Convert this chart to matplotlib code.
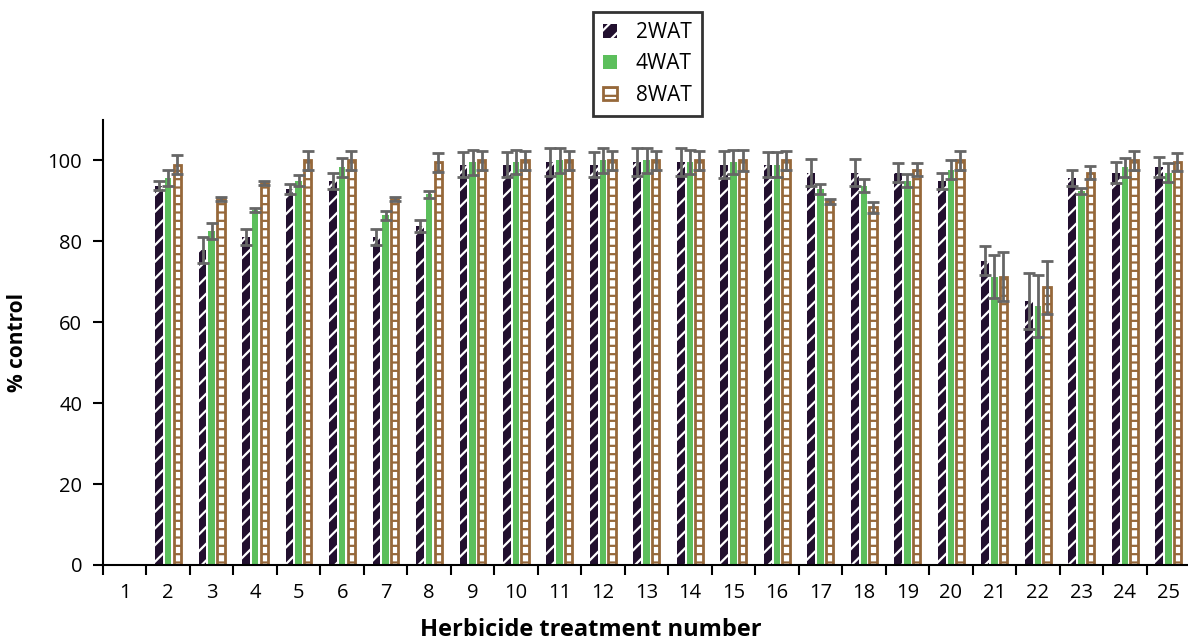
import matplotlib
matplotlib.use("Agg")
import matplotlib.pyplot as plt
import numpy as np

plt.rcParams['font.family'] = ['Open Sans', 'DejaVu Sans']
plt.rcParams['hatch.linewidth'] = 1.6

treatments = list(range(1, 26))

wat2 = [0, 93.7, 77.9, 81.0, 93.0, 95.0, 81.0, 83.8, 99.0, 99.0, 99.6, 99.0, 99.6,
        99.6, 99.0, 99.0, 97.0, 97.0, 97.0, 95.0, 75.2, 65.3, 95.7, 97.0, 98.3]
wat2_err = [0, 1.1, 3.3, 2.0, 1.2, 2.0, 2.0, 1.5, 3.0, 3.0, 3.4, 3.0, 3.4,
            3.4, 3.3, 3.0, 3.4, 3.3, 2.3, 2.0, 3.6, 6.9, 2.0, 2.6, 2.5]

wat4 = [0, 95.7, 82.6, 87.8, 95.0, 98.3, 86.4, 91.6, 99.5, 99.6, 100, 100, 100,
        99.6, 99.6, 99.0, 93.0, 93.7, 95.0, 97.7, 71.3, 64.0, 92.4, 98.3, 97.0]
wat4_err = [0, 2.0, 2.0, 0.5, 1.3, 2.4, 1.0, 0.8, 3.0, 3.0, 3.0, 3.0, 3.0,
            3.0, 3.0, 3.0, 1.3, 1.6, 1.6, 2.3, 5.3, 7.6, 0.7, 2.4, 2.3]

wat8 = [0, 99.0, 90.4, 94.5, 100, 100, 90.4, 99.5, 100, 100, 100, 100, 100,
        100, 100, 100, 89.9, 88.4, 97.7, 100, 71.3, 68.6, 97.0, 100, 99.6]
wat8_err = [0, 2.3, 0.5, 0.5, 2.3, 2.3, 0.5, 2.3, 2.4, 2.4, 2.4, 2.4, 2.4,
            2.4, 2.5, 2.4, 0.6, 1.4, 1.6, 2.4, 6.0, 6.6, 1.6, 2.4, 2.3]

x = np.array(treatments, dtype=float)
err_style = dict(ecolor="#666666", elinewidth=2, capsize=4.5, capthick=2)

fig = plt.figure(figsize=(11.88, 6.43), dpi=100)
ax = fig.add_axes([103/1188, 1 - 565/643, 1087/1188, 445/643])

b2 = ax.bar(x - 0.21, wat2, 0.18, color="#22102f", edgecolor="white",
            linewidth=0, hatch="//", label="2WAT")
ax.errorbar(x - 0.21, wat2, yerr=wat2_err, fmt="none", **err_style)

b4 = ax.bar(x, wat4, 0.15, color="#5cbf5c", linewidth=0, label="4WAT")
ax.errorbar(x, wat4, yerr=wat4_err, fmt="none", **err_style)

b8 = ax.bar(x + 0.21, wat8, 0.17, color="white", edgecolor="#96683a",
            linewidth=2.0, hatch="--", label="8WAT")
ax.errorbar(x + 0.21, wat8, yerr=wat8_err, fmt="none", **err_style)

ax.set_xlim(0.5, 25.5)
ax.set_ylim(0, 110)
ax.set_yticks([0, 20, 40, 60, 80, 100])
ax.set_xticks(x)
ax.set_xticklabels([str(t) for t in treatments])
ax.set_xticks(np.arange(0.5, 26, 1), minor=True)
ax.tick_params(axis="x", which="major", length=0, pad=13, labelsize=14.5)
ax.tick_params(axis="x", which="minor", length=7, width=1.5, direction="out")
ax.tick_params(axis="y", length=7, width=1.5, labelsize=14.5, pad=8)

for s in ["top", "right"]:
    ax.spines[s].set_visible(False)
for s in ["left", "bottom"]:
    ax.spines[s].set_linewidth(1.5)

ax.set_ylabel("% control", fontsize=15, fontweight="bold", labelpad=14)
fig.text(591/1188, 1 - 618/643, "Herbicide treatment number", fontsize=17,
         fontweight="bold", ha="center", va="top")

leg = fig.legend(handles=[b2, b4, b8], loc="upper center", bbox_to_anchor=(0.545, 0.982),
                 fontsize=15, frameon=True, fancybox=False, handlelength=0.65,
                 handleheight=0.65, borderpad=0.5, labelspacing=0.5, handletextpad=0.9,
                 borderaxespad=0)
leg.get_frame().set_edgecolor("black")
leg.get_frame().set_linewidth(2)

fig.savefig("out.png", dpi=100)
